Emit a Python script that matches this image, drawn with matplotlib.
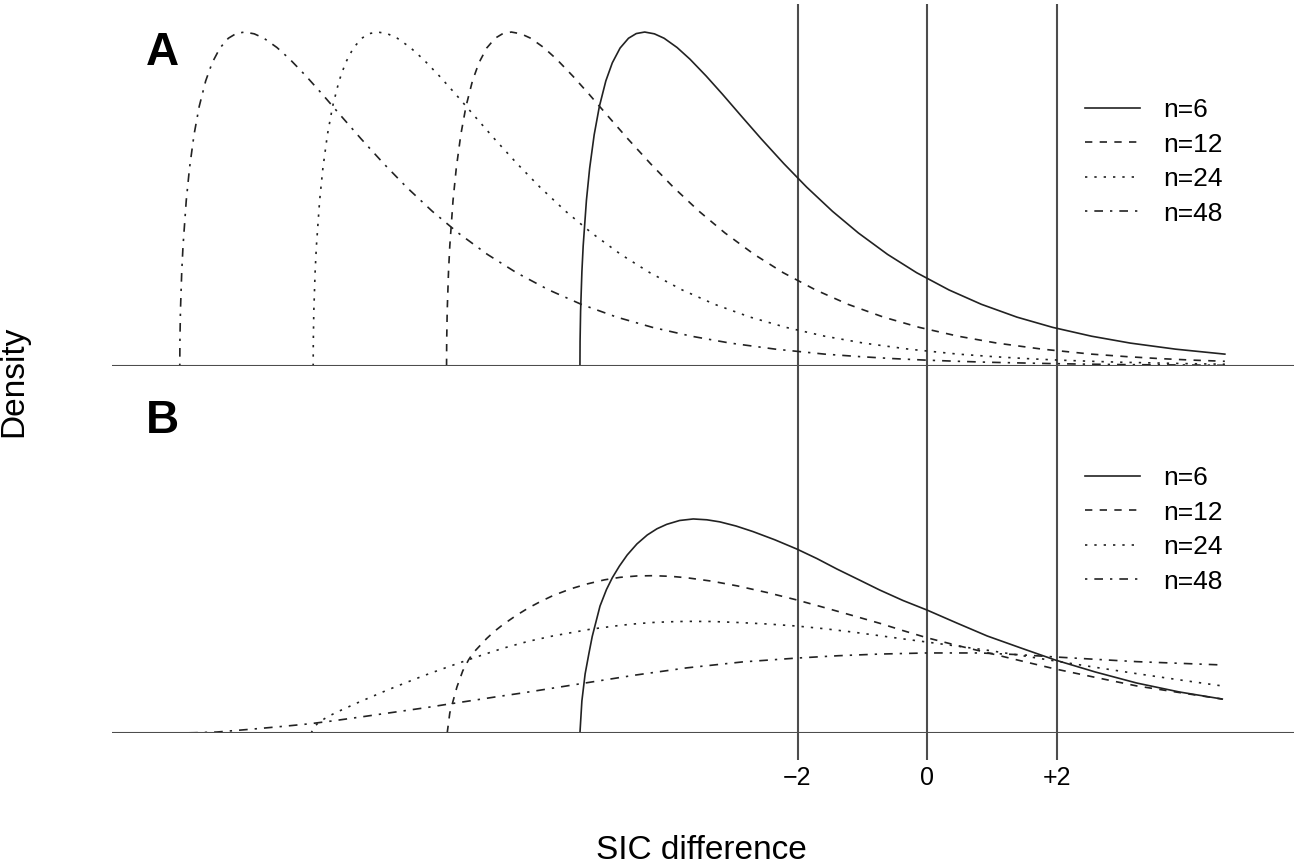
import matplotlib
matplotlib.use("Agg")
import matplotlib.pyplot as plt

plt.rcParams['font.family'] = ['Liberation Sans', 'DejaVu Sans']

# panel A: SIC difference densities
a6_x = [-5.36, -5.358, -5.35, -5.33, -5.31, -5.26, -5.21, -5.14, -5.06, -4.96, -4.86, -4.74,
        -4.61, -4.49, -4.36, -4.21, -4.06, -3.86, -3.66, -3.41, -3.16, -2.86, -2.56, -2.21,
        -1.86, -1.46, -1.06, -0.61, -0.16, 0.34, 0.84, 1.39, 1.94, 2.54, 3.14, 3.84, 4.60]
a12_x = [-7.42, -7.418, -7.41, -7.39, -7.37, -7.32, -7.27, -7.20, -7.12, -7.02, -6.92, -6.80,
         -6.67, -6.55, -6.42, -6.27, -6.12, -5.92, -5.72, -5.47, -5.22, -4.92, -4.62, -4.27,
         -3.92, -3.52, -3.12, -2.67, -2.22, -1.72, -1.22, -0.67, -0.12, 0.48, 1.08, 1.78,
         2.54, 3.08, 3.58, 4.08, 4.60]
a24_x = [-9.48, -9.478, -9.47, -9.45, -9.43, -9.38, -9.33, -9.26, -9.18, -9.08, -8.98, -8.86,
         -8.73, -8.61, -8.48, -8.33, -8.18, -7.98, -7.78, -7.53, -7.28, -6.98, -6.68, -6.33,
         -5.98, -5.58, -5.18, -4.73, -4.28, -3.78, -3.28, -2.73, -2.18, -1.58, -0.98, -0.28,
         0.48, 1.02, 1.52, 2.02, 2.54, 3.02, 3.52, 4.02, 4.60]
a48_x = [-11.54, -11.538, -11.53, -11.51, -11.49, -11.44, -11.39, -11.32, -11.24, -11.14,
         -11.04, -10.92, -10.79, -10.67, -10.54, -10.39, -10.24, -10.04, -9.84, -9.59, -9.34,
         -9.04, -8.74, -8.39, -8.04, -7.64, -7.24, -6.79, -6.34, -5.84, -5.34, -4.79, -4.24,
         -3.64, -3.04, -2.34, -1.58, -1.04, -0.54, -0.04, 0.48, 0.96, 1.46, 1.96, 2.54, 3.06,
         3.66, 4.06, 4.60]
a6_y = [0, 0.0178, 0.0397, 0.0681, 0.0870, 0.1200, 0.1433, 0.1676, 0.1881, 0.2066, 0.2197,
        0.2304, 0.2375, 0.2409, 0.2420, 0.2407, 0.2375, 0.2308, 0.2223, 0.2101, 0.1970,
        0.1807, 0.1646, 0.1466, 0.1297, 0.1121, 0.0964, 0.0809, 0.0676, 0.0551, 0.0447,
        0.0354, 0.0280, 0.0216, 0.0166, 0.0122, 0.0086]
a12_y = [0, 0.0178, 0.0397, 0.0681, 0.0870, 0.1200, 0.1433, 0.1676, 0.1881, 0.2066, 0.2197,
         0.2304, 0.2375, 0.2409, 0.2420, 0.2407, 0.2375, 0.2308, 0.2223, 0.2101, 0.1970,
         0.1807, 0.1646, 0.1466, 0.1297, 0.1121, 0.0964, 0.0809, 0.0676, 0.0551, 0.0447,
         0.0354, 0.0280, 0.0216, 0.0166, 0.0122, 0.0086, 0.0068, 0.0054, 0.0043, 0.0034]
a24_y = [0, 0.0178, 0.0397, 0.0681, 0.0870, 0.1200, 0.1433, 0.1676, 0.1881, 0.2066, 0.2197,
         0.2304, 0.2375, 0.2409, 0.2420, 0.2407, 0.2375, 0.2308, 0.2223, 0.2101, 0.1970,
         0.1807, 0.1646, 0.1466, 0.1297, 0.1121, 0.0964, 0.0809, 0.0676, 0.0551, 0.0447,
         0.0354, 0.0280, 0.0216, 0.0166, 0.0122, 0.0086, 0.0068, 0.0054, 0.0043, 0.0034,
         0.0027, 0.0022, 0.0017, 0.0013]
a48_y = [0, 0.0178, 0.0397, 0.0681, 0.0870, 0.1200, 0.1433, 0.1676, 0.1881, 0.2066, 0.2197,
         0.2304, 0.2375, 0.2409, 0.2420, 0.2407, 0.2375, 0.2308, 0.2223, 0.2101, 0.1970,
         0.1807, 0.1646, 0.1466, 0.1297, 0.1121, 0.0964, 0.0809, 0.0676, 0.0551, 0.0447,
         0.0354, 0.0280, 0.0216, 0.0166, 0.0122, 0.0086, 0.0068, 0.0054, 0.0043, 0.0034,
         0.0027, 0.0022, 0.0017, 0.0013, 0.0010, 0.0008, 0.0007, 0.0005]

# panel B
b6_x = [-5.36, -5.33, -5.28, -5.22, -5.17, -5.05, -4.95, -4.86, -4.75, -4.63, -4.48, -4.32,
        -4.17, -4.02, -3.82, -3.61, -3.40, -3.20, -2.95, -2.69, -2.35, -2.01, -1.70, -1.39,
        -1.05, -0.73, -0.37, 0.00, 0.46, 0.93, 1.45, 1.98, 2.60, 3.24, 3.90, 4.56]
b6_y = [0, 0.0232, 0.0428, 0.0580, 0.0700, 0.0920, 0.1040, 0.1125, 0.1210, 0.1290, 0.1370,
        0.1435, 0.1480, 0.1512, 0.1540, 0.1551, 0.1545, 0.1530, 0.1500, 0.1460, 0.1400,
        0.1333, 0.1264, 0.1188, 0.1110, 0.1036, 0.0960, 0.0891, 0.0797, 0.0703, 0.0616,
        0.0529, 0.0442, 0.0362, 0.0297, 0.0246]
b12_x = [-7.41, -7.37, -7.26, -7.17, -7.08, -7.01, -6.80, -6.68, -6.55, -6.35, -6.16, -5.98,
         -5.78, -5.50, -5.25, -4.98, -4.74, -4.48, -4.23, -3.95, -3.71, -3.32, -2.93, -2.47,
         -2.01, -1.57, -1.14, -0.73, -0.37, 0.00, 0.46, 0.93, 1.45, 1.98, 2.60, 3.24, 3.90,
         4.56]
b12_y = [0, 0.0145, 0.0333, 0.0450, 0.0530, 0.0580, 0.0685, 0.0737, 0.0785, 0.0850, 0.0905,
         0.0950, 0.0995, 0.1045, 0.1080, 0.1110, 0.1128, 0.1138, 0.1140, 0.1135, 0.1125,
         0.1100, 0.1066, 0.1018, 0.0964, 0.0907, 0.0850, 0.0795, 0.0742, 0.0690, 0.0635,
         0.0582, 0.0523, 0.0464, 0.0403, 0.0341, 0.0293, 0.0246]
b24_x = [-9.51, -9.47, -9.40, -9.25, -9.05, -8.80, -8.60, -8.34, -8.09, -7.78, -7.57,
         -7.32, -7.10, -6.90, -6.55, -6.16, -5.78, -5.20, -4.74, -4.48, -4.23, -3.97, -3.71,
         -3.32, -2.93, -2.47, -2.01, -1.57, -1.14, -0.73, -0.37, 0.00, 0.46, 0.93, 1.45,
         1.98, 2.60, 3.24, 3.90, 4.56]
b24_y = [0, 0.0040, 0.0075, 0.0120, 0.0165, 0.0218, 0.0258, 0.0310, 0.0357, 0.0414, 0.0450,
         0.0492, 0.0528, 0.0560, 0.0614, 0.0664, 0.0703, 0.0752, 0.0780, 0.0792, 0.0801,
         0.0806, 0.0809, 0.0808, 0.0801, 0.0790, 0.0775, 0.0755, 0.0731, 0.0705, 0.0682,
         0.0659, 0.0630, 0.0600, 0.0562, 0.0522, 0.0476, 0.0430, 0.0385, 0.0341]
b48_x = [-11.54, -11.31, -10.97, -10.63, -10.35, -9.88, -9.53, -9.19, -8.76, -8.42, -8.03,
         -7.72, -7.41, -7.10, -6.67, -6.25, -5.31, -4.50, -3.71, -2.85, -2.01, -1.37, -0.73,
         0.00, 0.82, 1.40, 1.98, 2.60, 3.24, 3.90, 4.56]
b48_y = [0, 0.0002, 0.0007, 0.0020, 0.0031, 0.0051, 0.0067, 0.0087, 0.0115, 0.0138, 0.0164,
         0.0185, 0.0208, 0.0230, 0.0261, 0.0290, 0.0360, 0.0420, 0.0472, 0.0515, 0.0543,
         0.0560, 0.0572, 0.0580, 0.0580, 0.0568, 0.0551, 0.0534, 0.0517, 0.0505, 0.0493]

labels = ['n=6', 'n=12', 'n=24', 'n=48']
markers_x = [-2, 0, 2]
tick_text = ['\u22122', '0', '+2']

styles = [dict(linestyle='-'),
          dict(linestyle=(0, (4.4, 4.4))),
          dict(linestyle=(0, (1.4, 4.2))),
          dict(linestyle=(0, (1.4, 4.2, 5.2, 4.2)))]
curve_col = '#222222'
ref_col = '#4d4d4d'

fig = plt.figure(figsize=(12.94, 8.67), dpi=100)
W, H = 1294, 867
left = 112 / W
width = (W - 112) / W
axA = fig.add_axes([left, 1 - 366 / H, width, 362 / H])
axB = fig.add_axes([left, 1 - 733 / H, width, 367 / H])

panels = [
    (axA, [(a6_x, a6_y), (a12_x, a12_y), (a24_x, a24_y), (a48_x, a48_y)], 362 / 1380, 'A', 65),
    (axB, [(b6_x, b6_y), (b12_x, b12_y), (b24_x, b24_y), (b48_x, b48_y)], 367 / 1380, 'B', 433),
]

for ax, curves, ytop, letter, base_px in panels:
    for (xs, ys), lab, st in zip(curves, labels, styles):
        ax.plot(xs, ys, color=curve_col, lw=1.2, label=lab, **st)
    ax.axhline(0, color=ref_col, lw=1.5)
    for v in markers_x:
        ax.axvline(v, color=ref_col, lw=1.5, zorder=0)
    ax.set_xlim((112 - 927) / 64.75, (1294 - 927) / 64.75)
    ax.set_ylim(0, ytop)
    for s in ax.spines.values():
        s.set_visible(False)
    ax.set_yticks([])
    ax.patch.set_alpha(0)
    leg_top = (366 - 98) / 362 if letter == 'A' else (733 - 466) / 367
    ax.legend(loc='upper left', bbox_to_anchor=((1085 - 112) / (W - 112), leg_top),
              frameon=False, fontsize=19, borderpad=0, borderaxespad=0,
              handlelength=2.1, handletextpad=0.85, labelspacing=0.4)
    fig.text(146 / W, 1 - base_px / H, letter, fontsize=33, fontweight='bold',
             va='baseline', ha='left')

axA.set_xticks([])
axB.set_xticks(markers_x)
axB.set_xticklabels(tick_text, fontsize=18)
axB.tick_params(axis='x', length=19.4, width=1.5, color=ref_col, pad=4.5)

fig.text(13.5 / W, 1 - 381 / H, 'Density', rotation=90, fontsize=24,
         ha='center', va='center')
fig.text(701 / W, 1 - 859 / H, 'SIC difference', fontsize=24, ha='center', va='baseline')

fig.savefig('out.png', dpi=100)
